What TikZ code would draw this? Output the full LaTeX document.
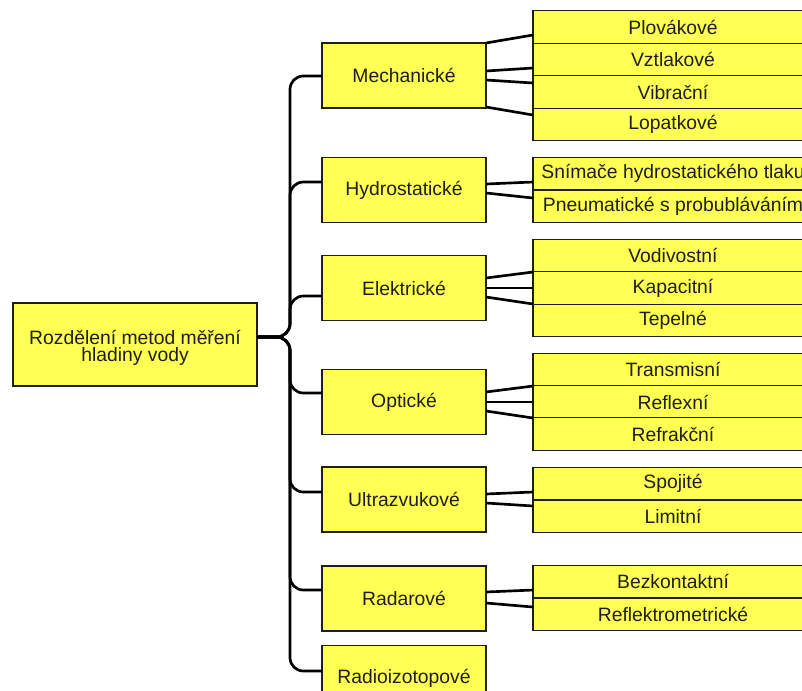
\documentclass[tikz,border=0pt]{standalone}
\usepackage{fontspec}
\setmainfont{Liberation Sans}
\definecolor{boxyellow}{RGB}{255,255,84}
\definecolor{ink}{RGB}{30,30,30}
\begin{document}
\begin{tikzpicture}[x=0.75pt,y=-0.75pt,
  boxfont/.style={font=\fontsize{14.5pt}{12.5pt}\selectfont},
  box/.style={draw=ink, line width=0.9pt, fill=boxyellow, inner sep=0pt, outer sep=0pt,
    text=ink, boxfont},
  rootbox/.style={box, minimum width=183pt, minimum height=62.25pt},
  roottext/.style={boxfont, text=ink, align=center, inner sep=0pt, yshift=-2.5pt},
  catbox/.style={box, minimum width=123pt, minimum height=48.75pt},
  leafbox/.style={box, minimum width=210pt, minimum height=24.4pt},
  link/.style={line width=2pt, draw=black},
  branch/.style={link, rounded corners=10pt}]
\clip (0,0) rectangle (802,690);

% root
\node[rootbox, label={[roottext]center:Rozdělení metod měření\\hladiny vody}] (root) at (135,344.5) {};

% categories
\node[catbox] (mech)  at (404,75.5)  {Mechanické};
\node[catbox] (hydro) at (404,190)   {Hydrostatické};
\node[catbox] (elek)  at (404,288)   {Elektrické};
\node[catbox] (opt)   at (404,402)   {Optické};
\node[catbox] (ultra) at (404,499.5) {Ultrazvukové};
\node[catbox] (radar) at (404,598.5) {Radarové};
\node[catbox] (radio) at (404,678)   {Radioizotopové};

% methods
\node[leafbox] (plov)  at (673,27)    {Plovákové};
\node[leafbox] (vztl)  at (673,59.5)  {Vztlakové};
\node[leafbox] (vibr)  at (673,92)    {Vibrační};
\node[leafbox] (lopat) at (673,124.5) {Lopatkové};
\node[leafbox] (snim)  at (673,173.5) {\makebox[0pt]{Snímače hydrostatického tlaku}};
\node[leafbox] (pneu)  at (673,206.5) {\makebox[0pt]{Pneumatické s probubláváním}};
\node[leafbox] (vodiv) at (673,255.5) {Vodivostní};
\node[leafbox] (kapac) at (673,288)   {Kapacitní};
\node[leafbox] (tepel) at (673,320.5) {Tepelné};
\node[leafbox] (trans) at (673,369.5) {Transmisní};
\node[leafbox] (refl)  at (673,402)   {Reflexní};
\node[leafbox] (refr)  at (673,434)   {Refrakční};
\node[leafbox] (spoj)  at (673,483.5) {Spojité};
\node[leafbox] (limit) at (673,516.5) {Limitní};
\node[leafbox] (bezk)  at (673,581.5) {Bezkontaktní};
\node[leafbox] (rmet)  at (673,614.5) {Reflektrometrické};

% brace from the root to every category
\coordinate (hub) at (290,337);
\foreach \cat/\yy in {mech/76,hydro/182,elek/296,opt/393,ultra/492,radar/590,radio/671}
  \draw[branch] (root.east |- 0,337) -- (hub) |- (\cat.west |- 0,\yy);

% fans from categories to methods
\draw[link] (mech.east |- 0,43)  -- (plov.west |- 0,35);
\draw[link] (mech.east |- 0,71)  -- (vztl.west |- 0,68);
\draw[link] (mech.east |- 0,80)  -- (vibr.west |- 0,83);
\draw[link] (mech.east |- 0,107) -- (lopat.west |- 0,115);

\draw[link] (hydro.east |- 0,184) -- (snim.west |- 0,182);
\draw[link] (hydro.east |- 0,193) -- (pneu.west |- 0,198);

\draw[link] (elek.east |- 0,278) -- (vodiv.west |- 0,272);
\draw[link] (elek.east |- 0,288) -- (kapac.west |- 0,288);
\draw[link] (elek.east |- 0,297) -- (tepel.west |- 0,304);

\draw[link] (opt.east |- 0,392) -- (trans.west |- 0,386);
\draw[link] (opt.east |- 0,402) -- (refl.west |- 0,402);
\draw[link] (opt.east |- 0,411) -- (refr.west |- 0,418);

\draw[link] (ultra.east |- 0,494) -- (spoj.west |- 0,492);
\draw[link] (ultra.east |- 0,503) -- (limit.west |- 0,506);

\draw[link] (radar.east |- 0,592) -- (bezk.west |- 0,590);
\draw[link] (radar.east |- 0,603) -- (rmet.west |- 0,607);
\end{tikzpicture}
\end{document}
